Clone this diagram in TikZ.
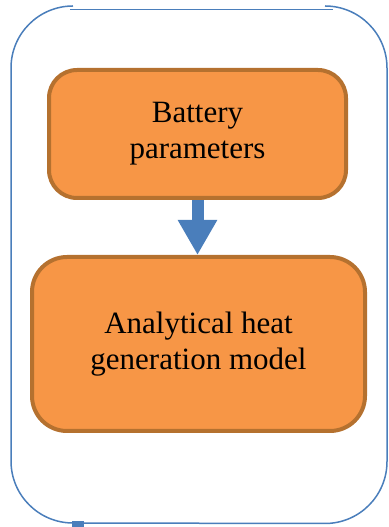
\documentclass[tikz,border=0pt]{standalone}
\usepackage{fontspec}
\setmainfont{Liberation Serif}
\usetikzlibrary{arrows.meta}
\definecolor{boxfill}{HTML}{F79646}
\definecolor{boxline}{HTML}{B5712F}
\definecolor{frameblue}{HTML}{4A7EBB}
\tikzset{
  box/.style={draw=boxline, fill=boxfill, line width=4pt, align=center,
    font=\fontsize{31}{36}\selectfont, inner sep=0pt},
  frame/.style={draw=frameblue, line width=1.5pt},
  flow/.style={draw=frameblue, line width=12pt,
    -{Triangle[width=37pt,length=35pt]}}
}
\begin{document}
\begin{tikzpicture}[x=1pt,y=1pt]
  \useasboundingbox (0,0) rectangle (388,527);
  % outer frame
  \draw[frame] (73,521) arc(90:180:62) -- (11,66) arc(180:270:62)
    -- (325,3.5) arc(270:360:62) -- (387,459) arc(0:90:62);
  \draw[frame] (70,517.5) -- (333,517.5);
  \fill[frameblue] (72,0) rectangle (84,6);
  % boxes
  \node[box, minimum width=297pt, minimum height=128pt, rounded corners=28pt]
    (params) at (197.5,393) {Battery\\parameters};
  \node[box, minimum width=333pt, minimum height=174pt, rounded corners=35pt]
    (model) at (198.5,183) {Analytical heat\\generation model};
  \draw[flow] (params.south) -- (params.south |- model.north);
\end{tikzpicture}
\end{document}
